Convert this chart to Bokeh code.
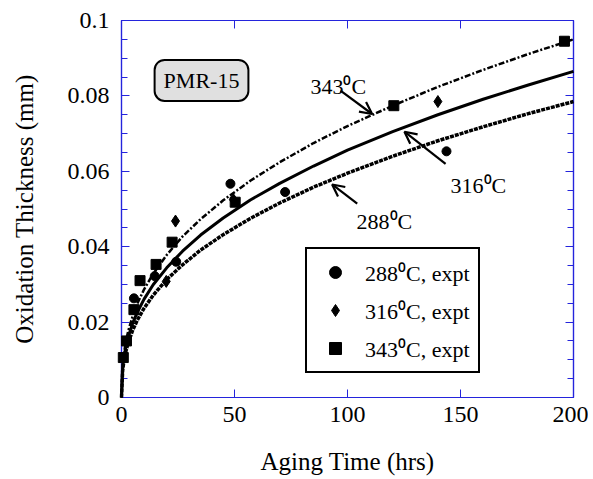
from bokeh.plotting import figure
from bokeh.models import (LinearAxis, FixedTicker, Legend, LegendItem, Label,
                          Arrow, OpenHead, Range1d, CustomLabelingPolicy)
from bokeh.embed import file_html
from bokeh.resources import INLINE

# ---- data ----
fit_t = [0, 0.5, 1, 2, 3, 5, 7, 10, 14, 20, 27, 35, 45, 57, 70, 85, 100, 120, 140, 160, 180, 200]
fit_343 = [0, 0.0086, 0.0114, 0.0151, 0.0177, 0.0217, 0.0249, 0.0287, 0.0328, 0.0378, 0.0427,
           0.0473, 0.0523, 0.0575, 0.0624, 0.0675, 0.0720, 0.0774, 0.0824, 0.0869, 0.0911, 0.0950]
fit_316 = [0, 0.0079, 0.0104, 0.0137, 0.0161, 0.0198, 0.0226, 0.0261, 0.0299, 0.0344, 0.0388,
           0.0431, 0.0476, 0.0524, 0.0568, 0.0614, 0.0656, 0.0705, 0.0750, 0.0791, 0.0829, 0.0865]
fit_288 = [0, 0.0071, 0.0094, 0.0124, 0.0146, 0.0179, 0.0205, 0.0237, 0.0271, 0.0313, 0.0352,
           0.0391, 0.0432, 0.0475, 0.0516, 0.0558, 0.0595, 0.0640, 0.0681, 0.0718, 0.0753, 0.0785]

t_288 = [5.5, 14.7, 24.2, 48.2, 72.4, 143.8]
v_288 = [0.0263, 0.0322, 0.0360, 0.0567, 0.0545, 0.0653]
t_316 = [19.8, 23.9, 49.5, 140.0]
v_316 = [0.0308, 0.0468, 0.0525, 0.0785]
t_343 = [0.8, 2.2, 5.5, 8.2, 15.3, 22.4, 50.3, 120.5, 196.0]
v_343 = [0.0106, 0.0150, 0.0233, 0.0310, 0.0353, 0.0412, 0.0518, 0.0774, 0.0945]

x_ticks = [0, 50, 100, 150, 200]
x_tick_labels = ["0", "50", "100", "150", "200"]
y_ticks = [0, 0.02, 0.04, 0.06, 0.08, 0.1]
y_tick_labels = ["0", "0.02", "0.04", "0.06", "0.08", "0.1"]
y_minor = [i * 0.005 for i in range(21)]

legend_labels = ["288\u2070C, expt", "316\u2070C, expt", "343\u2070C, expt"]

FONT = "Liberation Serif"
BLUE = "#2424dc"

p = figure(width=588, height=479, x_range=Range1d(0, 200), y_range=Range1d(0, 0.1),
           output_backend="svg", toolbar_location=None,
           min_border_left=121, min_border_right=15, min_border_top=20, min_border_bottom=82)
p.xgrid.visible = False
p.ygrid.visible = False
p.outline_line_color = BLUE
p.outline_line_width = 1.2
p.background_fill_color = "white"
p.border_fill_color = "white"

xb = p.below[0]
yl = p.left[0]

# fitted curves
p.line(fit_t, fit_343, color="black", line_width=2.5, line_dash="6 2 2 2", level="overlay")
p.line(fit_t, fit_316, color="black", line_width=3, level="overlay")
p.line(fit_t, fit_288, color="black", line_width=3.5, line_dash="4 1", level="overlay")

# experimental points
rc = p.scatter(t_288, v_288, marker="circle", size=9, color="black", level="overlay")
rd = p.scatter(t_316, v_316, marker="diamond", size=12, color="black", level="overlay")
rs = p.scatter(t_343, v_343, marker="square", size=10, color="black", level="overlay")

# axes
xt = FixedTicker(ticks=x_ticks, minor_ticks=[])
yt = FixedTicker(ticks=y_ticks, minor_ticks=y_minor)
xb.ticker = xt
yl.ticker = yt
xb.major_label_overrides = dict(zip(x_ticks, x_tick_labels))
yl.major_label_overrides = dict(zip(y_ticks, y_tick_labels))

hide_all = CustomLabelingPolicy(code="""
    const ids = Array.from(indices)
    for (const i of ids) indices.unset(i)
    return indices
""")
top = LinearAxis(ticker=xt, major_label_policy=hide_all)
right = LinearAxis(ticker=yt, major_label_policy=hide_all)
p.add_layout(top, "above")
p.add_layout(right, "right")

for ax in [xb, yl, top, right]:
    ax.axis_line_color = BLUE
    ax.axis_line_width = 1.2
    ax.major_tick_line_color = BLUE
    ax.major_tick_in = 8
    ax.major_tick_out = 0
    ax.minor_tick_line_color = BLUE
    ax.minor_tick_in = 6
    ax.minor_tick_out = 0
    ax.major_label_text_font = FONT
    ax.major_label_text_font_size = "24px"
    ax.major_label_text_color = "black"
    ax.axis_label_text_font = FONT
    ax.axis_label_text_font_size = "25px"
    ax.axis_label_text_font_style = "normal"
    ax.axis_label_text_color = "black"

for ax in [top, right]:
    ax.major_label_text_font_size = "1px"
    ax.major_label_standoff = 0

xb.axis_label = "Aging Time (hrs)"
yl.axis_label = "Oxidation Thickness (mm)"
xb.major_label_standoff = 9
xb.axis_label_standoff = 23
yl.major_label_standoff = 12
yl.axis_label_standoff = 27

# legend
legend = Legend(items=[LegendItem(label=legend_labels[0], renderers=[rc]),
                       LegendItem(label=legend_labels[1], renderers=[rd]),
                       LegendItem(label=legend_labels[2], renderers=[rs])],
                location=(184, 24))
legend.border_line_color = "black"
legend.border_line_alpha = 1
legend.border_line_width = 2.5
legend.background_fill_alpha = 1
legend.label_text_font = FONT
legend.label_text_font_size = "22px"
legend.label_text_color = "black"
legend.padding = 8
legend.margin = 0
legend.spacing = 8
legend.glyph_width = 40
legend.glyph_height = 30
legend.label_height = 30
legend.label_standoff = 10
p.add_layout(legend, "center")

# PMR-15 box
p.add_layout(Label(x=35.4, y=0.0841, text="PMR-15", text_font=FONT, text_font_size="22px",
                   text_color="black", text_align="center", text_baseline="middle",
                   background_fill_color="#e0e0e0", border_line_color="black",
                   border_line_width=2, padding=(9, 8), border_radius=10))

# curve annotations
def note(x, y, txt):
    p.add_layout(Label(x=x, y=y, text=txt, text_font=FONT, text_font_size="22px",
                       text_color="black", text_baseline="alphabetic"))

note(83.6, 0.0825, "343\u2070C")
note(145.6, 0.0562, "316\u2070C")
note(104.0, 0.0467, "288\u2070C")

def arrow(x0, y0, x1, y1):
    p.add_layout(Arrow(end=OpenHead(size=12, line_width=2.2, line_color="black"),
                       x_start=x0, y_start=y0, x_end=x1, y_end=y1,
                       line_width=2.2, line_color="black"))

arrow(96.9, 0.0814, 110.9, 0.0752)
arrow(143.4, 0.0620, 125.2, 0.0705)
arrow(104.3, 0.0514, 93.2, 0.0565)

open("out.html", "w").write(file_html(p, INLINE))
